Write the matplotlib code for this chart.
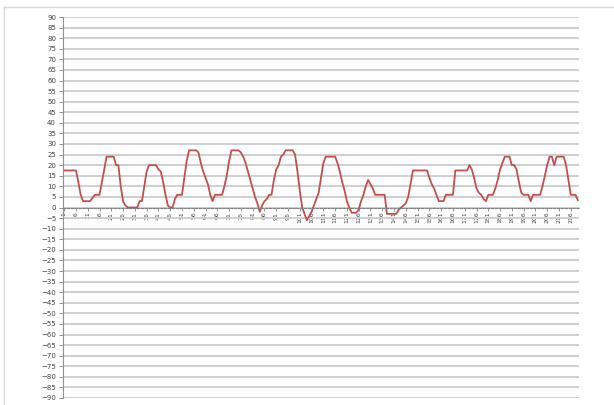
import matplotlib.pyplot as plt
from matplotlib.lines import Line2D
from matplotlib.ticker import MultipleLocator

# values, one per category (1..219)
values = [
    17.5, 17.5, 17.5, 17.5, 17.5, 17.5, 12, 6, 3, 3,
    3, 3, 4.5, 6, 6, 6, 12, 18, 24, 24,
    24, 24, 20, 20, 10, 3, 1, 0, 0, 0,
    0, 0, 3, 3, 10, 17, 20, 20, 20, 20,
    18, 17, 12, 6, 1, 0, 0, 4, 6, 6,
    6, 14, 22, 27, 27, 27, 27, 26, 21, 17,
    14, 11, 6, 3, 6, 6, 6, 6, 10, 15,
    22, 27, 27, 27, 27, 26, 24, 21, 17, 13,
    9, 5, 2, -2, 1, 3, 4, 6, 6, 13,
    18, 20, 24, 25, 27, 27, 27, 27, 25, 17,
    8, 0, -3, -6, -4, -2, 1, 4, 7, 14,
    21, 24, 24, 24, 24, 24, 21, 17, 12, 8,
    3, 0, -2.5, -2.5, -2.5, -1, 3, 6, 10, 13,
    11, 9, 6, 6, 6, 6, 6, -3, -3, -3,
    -3, -3, -1, 0, 1, 2, 5, 11, 17.5, 17.5,
    17.5, 17.5, 17.5, 17.5, 17.5, 14, 11, 9, 6, 3,
    3, 3, 6, 6, 6, 6, 17.5, 17.5, 17.5, 17.5,
    17.5, 17.5, 20, 18, 14, 9, 7, 6, 4, 3,
    6, 6, 6, 9, 13, 18, 21, 24, 24, 24,
    20, 20, 18, 12, 7, 6, 6, 6, 3, 6,
    6, 6, 6, 10, 15, 20, 24, 24, 20, 24,
    24, 24, 24, 20, 13, 6, 6, 6, 3.5,
]
categories = list(range(1, len(values) + 1))
tick_labels = [str(c) for c in categories[::5]]

fig = plt.figure(figsize=(6.14, 4.05), dpi=100)
ax = fig.add_axes([63 / 614, 1 - 398 / 405, (579 - 63) / 614, (398 - 17) / 405])

# spines first: moving a spine resets the ticks
for s in ['top', 'right']:
    ax.spines[s].set_visible(False)
ax.spines['left'].set_color('#909090')
ax.spines['left'].set_linewidth(0.8)
ax.spines['bottom'].set_position(('data', 0))
ax.spines['bottom'].set_color('#808080')
ax.spines['bottom'].set_linewidth(0.8)
ax.spines['bottom'].set_linestyle((0, (2, 1.5)))

ax.plot(categories, values, color='#c0504d', linewidth=1.3)

ax.set_xlim(0.5, len(values) + 0.5)
ax.set_ylim(-90, 90)
ax.yaxis.set_major_locator(MultipleLocator(5))
ax.set_xticks(categories[::5])
ax.set_xticklabels(tick_labels, rotation=90, fontsize=4.5, color='#404040')
ax.tick_params(axis='x', length=2, width=0.6, color='#808080', pad=1)
ax.tick_params(axis='y', labelsize=5, labelcolor='#404040', color='#808080',
               length=3, width=0.6, pad=2)

ax.grid(axis='y', color='#cfcfcf', linewidth=1.4)
ax.set_axisbelow(True)

# chart area border (top and left edges visible)
fig.add_artist(Line2D([4 / 614, 1], [1 - 7 / 405, 1 - 7 / 405], color='#d9d9d9', linewidth=1))
fig.add_artist(Line2D([4 / 614, 4 / 614], [0, 1 - 7 / 405], color='#d9d9d9', linewidth=1))

fig.savefig('out.png', dpi=100)
